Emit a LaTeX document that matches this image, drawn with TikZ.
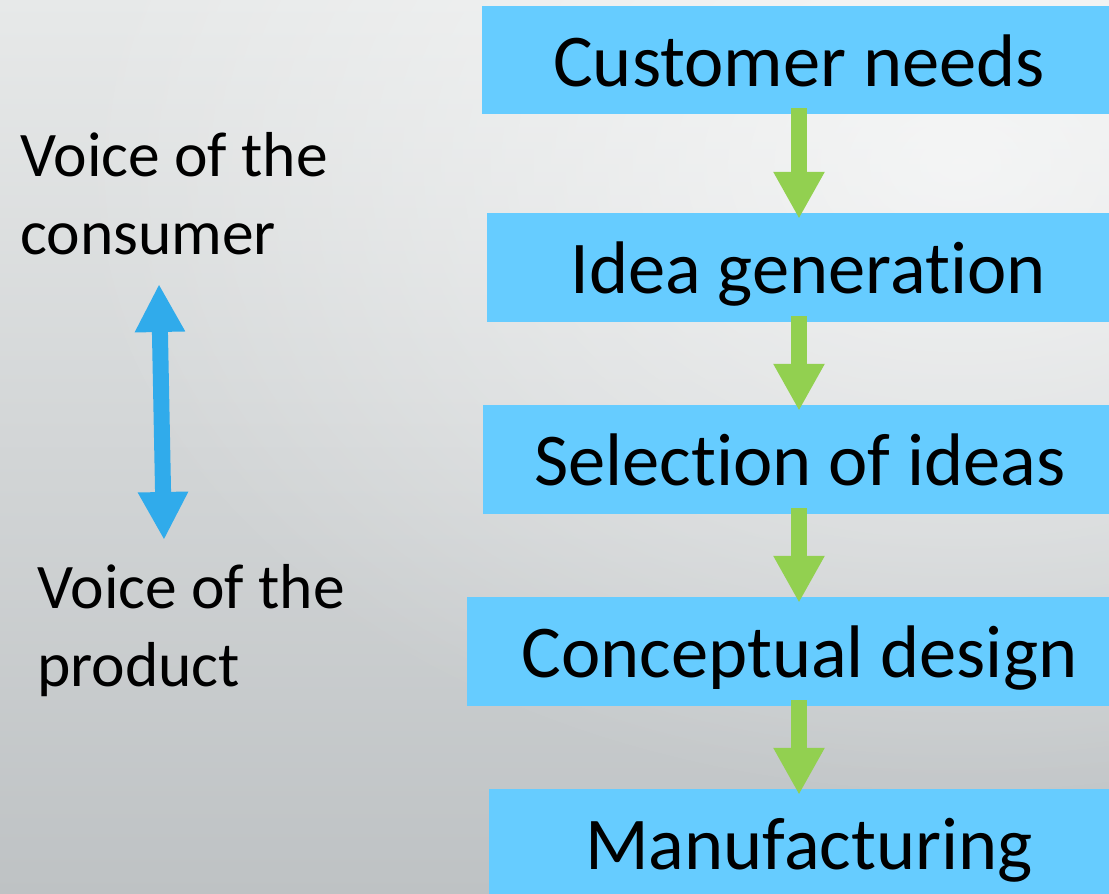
\documentclass[tikz,border=0pt]{standalone}
\usepackage{fontspec}
\setmainfont[Ligatures=NoCommon]{Carlito}
\usetikzlibrary{arrows.meta,fadings}
\definecolor{boxblue}{HTML}{66CCFF}
\definecolor{arrgreen}{HTML}{92D050}
\definecolor{vocblue}{HTML}{30ABEB}
\definecolor{bgtop}{HTML}{E7E9E9}
\definecolor{bgmid}{HTML}{DDDFE0}
\definecolor{bgbot}{HTML}{BEC2C4}
\tikzfading[name=glow, inner color=transparent!0, outer color=transparent!100]
\tikzset{
  stage/.style={fill=boxblue, minimum height=108pt, inner sep=0pt,
    text height=53pt, text depth=0pt, font=\fontsize{74.5}{90}\selectfont},
  flow/.style={draw=arrgreen, line width=16pt, -{Triangle[length=47pt,width=48pt]}},
  voice/.style={anchor=base west, align=left, inner sep=0pt, font=\fontsize{63.5}{78}\selectfont}
}
\begin{document}
\begin{tikzpicture}[x=1pt,y=1pt]
\useasboundingbox (0,0) rectangle (1109,894);
\clip (0,0) rectangle (1109,894);
\shade[top color=bgtop, middle color=bgmid, bottom color=bgbot] (0,0) rectangle (1109,894);
\fill[white, path fading=glow, fill opacity=0.65] (960,730) ellipse (900 and 640);
\node[stage, minimum width=634pt] (needs) at (799,834) {Customer needs};
\node[stage, minimum width=642pt, minimum height=109pt] (ideas) at (808,626.5) {Idea generation};
\node[stage, minimum width=634pt, minimum height=109pt] (select) at (800,434.5) {Selection of ideas};
\node[stage, minimum width=665pt, minimum height=109pt] (concept) at (799.5,242.5) {Conceptual design};
\node[stage, minimum width=640pt, minimum height=109pt] (manuf) at (809,50.5) {Manufacturing};
\draw[flow] ([yshift=6pt]needs.south) -- ([yshift=-6pt]needs.south |- ideas.north);
\draw[flow] ([yshift=6pt]needs.south |- ideas.south) -- ([yshift=-6pt]needs.south |- select.north);
\draw[flow] ([yshift=6pt]needs.south |- select.south) -- ([yshift=-6pt]needs.south |- concept.north);
\draw[flow] ([yshift=6pt]needs.south |- concept.south) -- ([yshift=-6pt]needs.south |- manuf.north);
\node[voice] (consumer) at (20,639) {Voice of the\\consumer};
\node[voice] (product) at (37,207) {Voice of the\\product};
\coordinate (vtop) at (159,610);
\coordinate (vbot) at (164,354);
\draw[draw=vocblue, line width=16pt, {Triangle[length=48pt,width=47pt]}-{Triangle[length=48pt,width=47pt]}] (vtop) -- (vbot);
\end{tikzpicture}
\end{document}
